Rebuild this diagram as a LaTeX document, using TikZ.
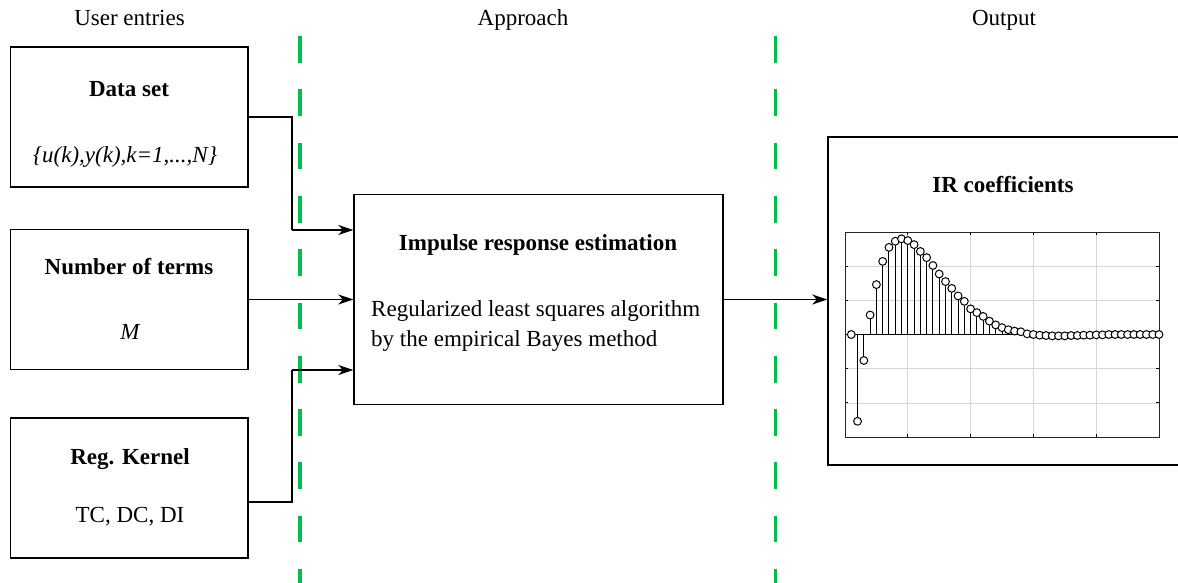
\documentclass[tikz,border=0pt]{standalone}
\usepackage{fontspec}
\setmainfont{Liberation Serif}
\usetikzlibrary{arrows.meta}
\definecolor{sepgreen}{RGB}{0,190,75}
\definecolor{gridgray}{RGB}{215,215,215}
\begin{document}
\begin{tikzpicture}[x=1pt,y=-1pt,
  every node/.style={inner sep=0pt, font=\fontsize{23}{30}\selectfont},
  box/.style={draw, line width=1.4pt, minimum width=237.3pt, minimum height=140pt},
  label/.style={anchor=base},
  title/.style={anchor=base, font=\fontsize{23}{30}\selectfont\bfseries},
  conn/.style={line width=1.4pt, -{Stealth[length=15pt,width=10pt,inset=4.5pt]}},
  wire/.style={line width=1.4pt},
  sep/.style={draw=sepgreen, line width=3.2pt, dash pattern=on 26.7pt off 26.6pt},
  gridline/.style={draw=gridgray, line width=0.7pt},
  stemline/.style={line width=1pt},
  mk/.style={draw, fill=white, line width=1pt}
]
\useasboundingbox (0,0) rectangle (1178,583);

% column headings
\node[label] (hUser) at (129.5,26) {User entries};
\node[label] (hAppr) at (523,26) {Approach};
\node[label] (hOut)  at (1004,26) {Output};

% column separators
\draw[sep] (300,36) -- (300,600);
\draw[sep] (775.5,36) -- (775.5,600);

% user entry boxes
\node[box] (data)   at (129.35,117) {};
\node[title] (dataT) at (129,97) {Data set};
\node[label] (dataS) at (125,163) {\itshape \{u(k),y(k),k=1,...,N\}};

\node[box] (terms)  at (129.35,299.5) {};
\node[title] (termsT) at (129,274) {Number of terms};
\node[label] (termsS) at (130,339) {\itshape M};

\node[box] (kernel) at (129.35,488) {};
\node[title] (kernelT) at (130,464) {Reg. Kernel};
\node[label] (kernelS) at (130,522) {TC, DC, DI};

% estimation box
\node[draw, line width=1.4pt, minimum width=369pt, minimum height=210pt] (est) at (538.5,299.5) {};
\node[title] (estT) at (538,250) {Impulse response estimation};
\node[anchor=west, align=left] (estS) at (371,326) {Regularized least squares algorithm\\by the empirical Bayes method};

% output box (runs past the right edge)
\node[draw, line width=1.4pt, minimum width=354pt, minimum height=328pt] (out) at (1005,301) {};
\node[title] (outT) at (1003,193) {IR coefficients};

% connectors
\coordinate (jd) at (292,230);
\coordinate (jk) at (292,370);
\draw[wire] (data.east) -| (jd);
\draw[conn] (jd) -- (jd -| est.west);
\draw[conn] (terms.east) -- (terms.east -| est.west);
\coordinate (k0) at ([yshift=-14pt]kernel.east);
\draw[wire] (k0) -| (jk);
\draw[conn] (jk) -- (jk -| est.west);
\draw[conn] (est.east) -- (est.east -| out.west);

% impulse response stem plot
\foreach \i in {1,...,4}
  \draw[gridline] ({845+\i*62.8},232) -- ({845+\i*62.8},437);
\foreach \j in {1,2,3,4,5}
  \draw[gridline] (845,{232+\j*34.17}) -- (1159,{232+\j*34.17});
\foreach \i in {0,...,5} {
  \draw[line width=0.8pt] ({845+\i*62.8},437) -- ({845+\i*62.8},434);
  \draw[line width=0.8pt] ({845+\i*62.8},232) -- ({845+\i*62.8},235);
}
\foreach \j in {0,...,6} {
  \draw[line width=0.8pt] (845,{232+\j*34.17}) -- (848,{232+\j*34.17});
  \draw[line width=0.8pt] (1159,{232+\j*34.17}) -- (1156,{232+\j*34.17});
}
\draw[line width=1pt, draw=black!85] (845,232) rectangle (1159,437);
\draw[stemline] (845,334.5) -- (1159,334.5);
\def\irvals{0,-2.54,-0.76,0.57,1.46,2.14,2.55,2.73,2.80,2.75,2.63,2.43,2.25,2.02,1.77,1.55,1.35,1.13,0.97,0.75,0.64,0.53,0.39,0.28,0.20,0.14,0.10,0.08,0.02,0,-0.02,-0.03,-0.04,-0.04,-0.04,-0.03,-0.03,-0.02,-0.02,-0.01,-0.01,0,0,0,0,0,0,0,0,0}
\foreach \v [count=\k] in \irvals
  \draw[stemline] ({845+\k*6.28},334.5) -- ({845+\k*6.28},{334.5-\v*34.17});
\foreach \v [count=\k] in \irvals
  \draw[mk] ({845+\k*6.28},{334.5-\v*34.17}) circle (3.9pt);
\end{tikzpicture}
\end{document}
